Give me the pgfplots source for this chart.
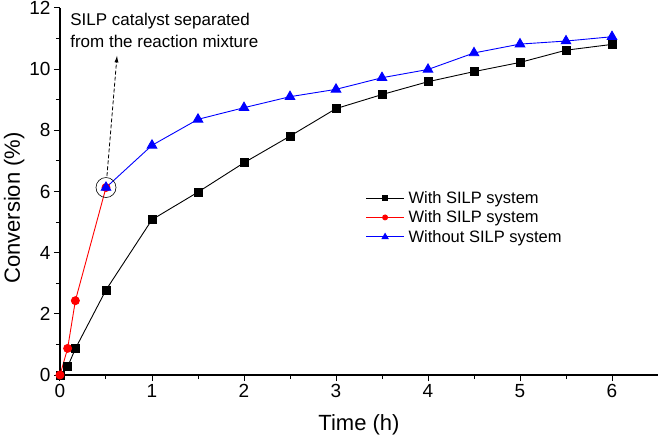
\documentclass[border=0pt]{standalone}
\usepackage{fontspec}
\setmainfont{Liberation Sans}
\usepackage{pgfplots}
\pgfplotsset{compat=1.18}
\usetikzlibrary{arrows.meta}
\begin{document}
\begin{tikzpicture}
\begin{axis}[
  scale only axis,
  width=598pt, height=367pt,
  xmin=0, xmax=6.5, ymin=0, ymax=12,
  axis x line*=bottom, axis y line*=left,
  axis line style={line width=1.2pt},
  xtick={0,1,2,3,4,5,6}, ytick={0,2,4,6,8,10,12},
  minor x tick num=1, minor y tick num=1,
  tick align=outside,
  major tick length=6pt, minor tick length=4pt,
  every tick/.style={black, line width=1pt},
  /pgf/number format/assume math mode=true,
  tick label style={font=\fontsize{19}{21}\selectfont},
  xlabel={Time (h)}, ylabel={Conversion (\%)},
  label style={font=\fontsize{22}{24}\selectfont},
  xlabel style={yshift=-10pt},
  ylabel style={at={(ticklabel cs:0.455)}, yshift=-2pt},
  legend style={draw=none, fill=none, at={(axis cs:3.32,6.08)}, anchor=north west,
    font=\fontsize{16.5}{19}\selectfont, row sep=2pt, inner sep=0pt,
    nodes={inner xsep=4pt}},
  legend cell align=left,
  legend image code/.code={\draw[mark repeat=2,mark phase=2,mark options={scale=0.62}] plot coordinates {(0pt,0pt)(19pt,0pt)(38pt,0pt)};},
]
\addplot[black, line width=0.9pt, mark=square*, mark size=4pt, mark options={solid}] coordinates {
 (0,0) (0.083,0.27) (0.167,0.86) (0.5,2.78) (1,5.08) (1.5,5.98) (2,6.94) (2.5,7.81)
 (3,8.71) (3.5,9.17) (4,9.59) (4.5,9.92) (5,10.22) (5.5,10.62) (6,10.81)};
\addlegendentry{With SILP system}
\addplot[red, line width=0.9pt, mark=*, mark size=4pt] coordinates {
 (0,0) (0.083,0.87) (0.167,2.43) (0.5,6.13)};
\addlegendentry{With SILP system}
\addplot[blue, line width=0.9pt, mark=triangle*, mark size=5.5pt] coordinates {
 (0.5,6.13) (1,7.51) (1.5,8.36) (2,8.74) (2.5,9.10) (3,9.34) (3.5,9.72) (4,9.99)
 (4.5,10.53) (5,10.82) (5.5,10.92) (6,11.06)};
\addlegendentry{Without SILP system}
\draw[black, line width=0.6pt] (axis cs:0.5,6.13) circle[radius=10pt];
\draw[black, line width=0.8pt, dash pattern=on 4pt off 2pt, -{Latex[length=7pt,width=4pt]}] (axis cs:0.51,6.5) -- (axis cs:0.62,10.45);
\node[anchor=north west, align=left, inner sep=0pt, font=\fontsize{17}{22}\selectfont] at (axis cs:0.11,11.85) {SILP catalyst separated\\from the reaction mixture};
\coordinate (sw) at (rel axis cs:0,0);
\coordinate (ne) at (rel axis cs:1,1);
\end{axis}
\pgfresetboundingbox
\path ([xshift=-60pt,yshift=-64pt]sw) rectangle ([xshift=3pt,yshift=8pt]ne);
\end{tikzpicture}
\end{document}
